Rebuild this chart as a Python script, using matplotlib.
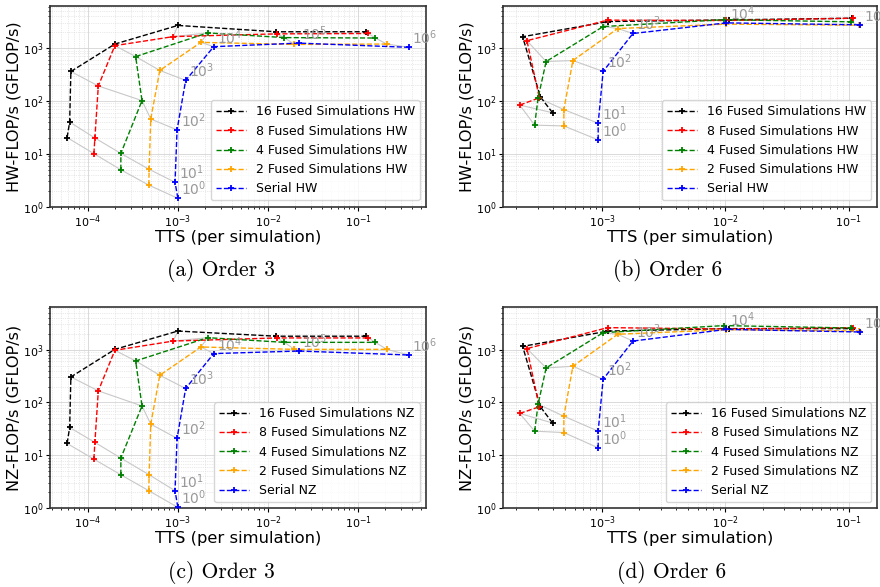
import matplotlib
matplotlib.use("Agg")
import matplotlib.pyplot as plt

W, H = 880, 587

series_names = ["16 Fused Simulations", "8 Fused Simulations", "4 Fused Simulations",
                "2 Fused Simulations", "Serial"]
series_colors = ["black", "red", "green", "orange", "blue"]

# ---- Order 3 (element counts 10^0 .. 10^6) ----
elements_o3 = [0, 1, 2, 3, 4, 5, 6]
tts_o3_16 = [5.9e-5, 6.3e-5, 6.5e-5, 2.0e-4, 1.0e-3, 1.23e-2, 0.122]
tts_o3_8 = [1.17e-4, 1.2e-4, 1.31e-4, 2.0e-4, 8.9e-4, 1.25e-2, 0.13]
tts_o3_4 = [2.33e-4, 2.33e-4, 4.0e-4, 3.4e-4, 2.14e-3, 1.52e-2, 0.155]
tts_o3_2 = [4.76e-4, 4.8e-4, 5.0e-4, 6.3e-4, 1.8e-3, 1.96e-2, 0.208]
tts_o3_1 = [1.0e-3, 9.3e-4, 9.8e-4, 1.22e-3, 2.5e-3, 2.19e-2, 0.366]

hw_o3_16 = [20.4, 40, 363, 1200, 2700, 2050, 2050]
hw_o3_8 = [10.1, 20, 193, 1120, 1660, 1870, 1900]
hw_o3_4 = [5.0, 10.2, 102, 695, 1950, 1590, 1560]
hw_o3_2 = [2.56, 5.1, 45.7, 380, 1290, 1180, 1200]
hw_o3_1 = [1.44, 2.9, 28.5, 246, 1070, 1250, 1040]

nz_o3_16 = [16.8, 33.7, 304, 1010, 2240, 1790, 1790]
nz_o3_8 = [8.5, 17.6, 166, 970, 1450, 1660, 1660]
nz_o3_4 = [4.3, 8.9, 86, 610, 1680, 1370, 1370]
nz_o3_2 = [2.15, 4.3, 39, 327, 1120, 1010, 1010]
nz_o3_1 = [1.04, 2.15, 21, 184, 840, 940, 790]

# ---- Order 6 (element counts 10^0 .. 10^5) ----
elements_o6 = [0, 1, 2, 3, 4, 5]
tts_o6_16 = [3.97e-4, 3.16e-4, 2.27e-4, 1.12e-3, 1.07e-2, 0.107]
tts_o6_8 = [2.15e-4, 3.1e-4, 2.46e-4, 1.11e-3, 1.02e-2, 0.109]
tts_o6_4 = [2.84e-4, 3.03e-4, 3.52e-4, 1.02e-3, 9.7e-3, 0.105]
tts_o6_2 = [4.9e-4, 4.9e-4, 5.8e-4, 1.34e-3, 1.02e-2, 0.12]
tts_o6_1 = [9.3e-4, 9.3e-4, 1.02e-3, 1.78e-3, 1.02e-2, 0.124]

hw_o6_16 = [60, 120, 1650, 3200, 3440, 3700]
hw_o6_8 = [84, 115, 1390, 3400, 3350, 3700]
hw_o6_4 = [35, 115, 560, 2570, 3470, 3160]
hw_o6_2 = [33.8, 69, 585, 2360, 2860, 2730]
hw_o6_1 = [18.4, 38, 364, 1900, 3020, 2770]

nz_o6_16 = [41, 83, 1150, 2240, 2490, 2490]
nz_o6_8 = [62, 83, 1045, 2600, 2450, 2600]
nz_o6_4 = [28.7, 93, 450, 2090, 2840, 2560]
nz_o6_2 = [27, 55, 484, 1950, 2380, 2240]
nz_o6_1 = [13.9, 28.7, 275, 1450, 2410, 2150]

panels = [
    dict(rect=(50, 6, 426, 206.7), tts=[tts_o3_16, tts_o3_8, tts_o3_4, tts_o3_2, tts_o3_1],
         perf=[hw_o3_16, hw_o3_8, hw_o3_4, hw_o3_2, hw_o3_1], el=elements_o3, kind="HW",
         caption="(a) Order 3", cap_x=221, cap_y=270),
    dict(rect=(502.7, 6, 877.3, 206.7), tts=[tts_o6_16, tts_o6_8, tts_o6_4, tts_o6_2, tts_o6_1],
         perf=[hw_o6_16, hw_o6_8, hw_o6_4, hw_o6_2, hw_o6_1], el=elements_o6, kind="HW",
         caption="(b) Order 6", cap_x=668, cap_y=270),
    dict(rect=(50, 307.3, 426, 508.3), tts=[tts_o3_16, tts_o3_8, tts_o3_4, tts_o3_2, tts_o3_1],
         perf=[nz_o3_16, nz_o3_8, nz_o3_4, nz_o3_2, nz_o3_1], el=elements_o3, kind="NZ",
         caption="(c) Order 3", cap_x=221, cap_y=572),
    dict(rect=(502.7, 307.3, 877.3, 508.3), tts=[tts_o6_16, tts_o6_8, tts_o6_4, tts_o6_2, tts_o6_1],
         perf=[nz_o6_16, nz_o6_8, nz_o6_4, nz_o6_2, nz_o6_1], el=elements_o6, kind="NZ",
         caption="(d) Order 6", cap_x=672, cap_y=572),
]

fig = plt.figure(figsize=(W / 100, H / 100), dpi=100)

for p in panels:
    x0, y0, x1, y1 = p["rect"]
    ax = fig.add_axes([x0 / W, 1 - y1 / H, (x1 - x0) / W, (y1 - y0) / H])
    ax.set_xscale("log")
    ax.set_yscale("log")
    # isolines of equal element count
    for k in range(len(p["el"])):
        xs = [s[k] for s in p["tts"]]
        ys = [s[k] for s in p["perf"]]
        ax.plot(xs, ys, color="#c8c8c8", lw=0.8, zorder=1)
    for name, col, xs, ys in zip(series_names, series_colors, p["tts"], p["perf"]):
        ax.plot(xs, ys, ls="--", color=col, lw=1.0, marker="+", ms=4, mew=1.3,
                label=f"{name} {p['kind']}", zorder=3)
    for k, e in enumerate(p["el"]):
        ax.annotate(f"$10^{{{e}}}$", (p["tts"][-1][k], p["perf"][-1][k]),
                    xytext=(2.5, 0), textcoords="offset points", ha="left", va="bottom",
                    color="#999999", fontsize=10, zorder=4, annotation_clip=False)
    ax.set_ylim(1, 6300)
    ax.grid(which="major", color="#d5d5d5", lw=0.6, ls="-")
    ax.grid(which="minor", color="#d5d5d5", lw=0.5, ls=":")
    ax.set_axisbelow(True)
    for sp in ax.spines.values():
        sp.set_color("#333333")
        sp.set_linewidth(1.2)
    ax.tick_params(which="both", labelsize=8, pad=1.5)
    ax.tick_params(which="major", length=3)
    ax.tick_params(which="minor", length=1.5)
    ax.set_xlabel("TTS (per simulation)", fontsize=11.8, labelpad=0)
    ax.set_ylabel(f"{p['kind']}-FLOP/s (GFLOP/s)", fontsize=11.6, labelpad=1)
    ax.legend(loc="lower right", fontsize=9.0, handlelength=2.4)
    fig.text(p["cap_x"] / W, 1 - p["cap_y"] / H, p["caption"], family="cmr10",
             fontsize=15.5, ha="center", va="center")

fig.savefig("out.png", dpi=100)
